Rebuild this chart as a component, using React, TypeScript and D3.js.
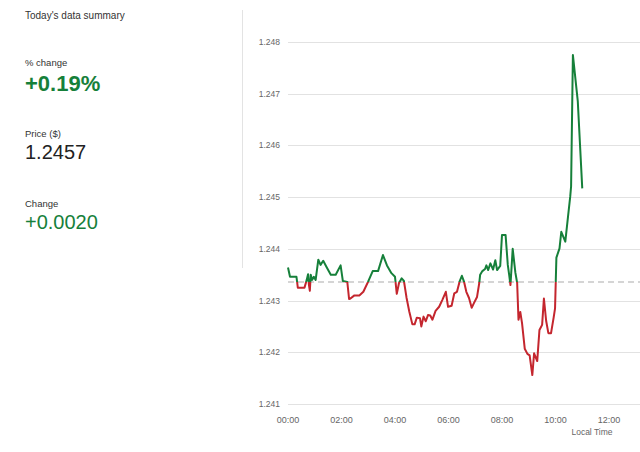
import React from "react";
import * as d3 from "d3";

// time in minutes after 00:00 (local time)
const minutes = [
  0, 4.5, 19, 22, 37, 42, 45, 47, 49, 51, 54, 58, 62, 68, 73, 79, 87, 96, 107, 118,
  123, 133, 137, 140, 149, 160, 169, 180, 190, 202, 213, 222, 232, 240, 244, 249, 255, 260, 266, 272,
  279, 284, 289, 296, 299, 304, 309, 314, 319, 324, 331, 339, 346, 354, 359, 367, 373, 379, 385, 390,
  395, 400, 406, 412, 417, 424, 429, 431, 436, 442, 445, 449, 454, 460, 465, 469, 476, 480, 488, 493,
  496, 499, 504, 510, 514, 517, 521, 525, 531, 537, 542, 548, 552, 559, 564, 570, 574, 579, 584, 590,
  596, 599, 602, 609, 613, 622, 628, 633, 635, 639, 650, 660,
];
const prices = [
  1.24364, 1.24346, 1.24346, 1.24325, 1.24325, 1.2434, 1.24351, 1.2433, 1.24319, 1.2435, 1.2434, 1.24346, 1.2434, 1.24379, 1.24369, 1.24377, 1.24364, 1.2435, 1.2435, 1.24368,
  1.24338, 1.24336, 1.24303, 1.24304, 1.2431, 1.2431, 1.24317, 1.24337, 1.24357, 1.24357, 1.24388, 1.24368, 1.24353, 1.24346, 1.24313, 1.24334, 1.24343, 1.24338, 1.24305, 1.24279,
  1.24254, 1.24254, 1.24267, 1.24266, 1.2425, 1.24269, 1.2426, 1.24272, 1.24271, 1.24263, 1.2428, 1.24288, 1.24301, 1.24317, 1.24288, 1.2429, 1.24314, 1.24317, 1.24337, 1.24348,
  1.24336, 1.24317, 1.24305, 1.24286, 1.24295, 1.24307, 1.24334, 1.2435, 1.24357, 1.24361, 1.24368, 1.24359, 1.24372, 1.2436, 1.24378, 1.24359, 1.24367, 1.24427, 1.24427, 1.24369,
  1.2435, 1.2433, 1.244, 1.24354, 1.24334, 1.24263, 1.24278, 1.24256, 1.24207, 1.24197, 1.24194, 1.24156, 1.24198, 1.24183, 1.24243, 1.24253, 1.24304, 1.24261, 1.24237, 1.24237,
  1.24268, 1.24285, 1.24383, 1.24401, 1.24433, 1.24414, 1.24462, 1.24501, 1.24521, 1.24775, 1.24685, 1.24517,
];
const previousClose = 1.24336;

const yTicks = [1.241, 1.242, 1.243, 1.244, 1.245, 1.246, 1.247, 1.248];
const xTickMinutes = [0, 120, 240, 360, 480, 600, 720];
const xTickLabels = ["00:00", "02:00", "04:00", "06:00", "08:00", "10:00", "12:00"];

const summaryTitle = "Today's data summary";
const summaryLabels = ["% change", "Price ($)", "Change"];
const summaryValues = ["+0.19%", "1.2457", "+0.0020"];

const GREEN = "#16803a";
const RED = "#c4262e";
const FONT = "'Liberation Sans', Arial, sans-serif";

export default function App() {
  const W = 640;
  const H = 452;
  const x = d3.scaleLinear().domain([0, 720]).range([288, 609]);
  const y = d3.scaleLinear().domain([1.241, 1.248]).range([404, 42]);
  const data = minutes.map((m, i) => ({ m, v: prices[i] }));
  const line = d3
    .line<{ m: number; v: number }>()
    .x((d) => x(d.m))
    .y((d) => y(d.v));
  const path = line(data) || "";
  const by = y(previousClose);

  return (
    <svg
      width={W}
      height={H}
      style={{ position: "absolute", left: 0, top: 0, background: "#fff" }}
      fontFamily={FONT}
    >
      <defs>
        <clipPath id="above">
          <rect x={0} y={0} width={W} height={by} />
        </clipPath>
        <clipPath id="below">
          <rect x={0} y={by} width={W} height={H - by} />
        </clipPath>
      </defs>

      {/* summary panel */}
      <text x={25} y={19} fontSize={10} fill="#333">{summaryTitle}</text>
      <text x={25} y={66} fontSize={9.5} fill="#333">{summaryLabels[0]}</text>
      <text x={25} y={91} fontSize={22} fontWeight="bold" fill={GREEN}>{summaryValues[0]}</text>
      <text x={25} y={137} fontSize={9.5} fill="#333">{summaryLabels[1]}</text>
      <text x={25} y={159} fontSize={20} fill="#222">{summaryValues[1]}</text>
      <text x={25} y={207} fontSize={9.5} fill="#333">{summaryLabels[2]}</text>
      <text x={25} y={229} fontSize={20} fill={GREEN}>{summaryValues[2]}</text>

      <line x1={242.5} x2={242.5} y1={10} y2={268} stroke="#e3e3e3" strokeWidth={1} />

      {/* grid + y ticks */}
      {yTicks.map((t) => (
        <g key={t}>
          <line x1={288} x2={W} y1={Math.round(y(t)) + 0.5} y2={Math.round(y(t)) + 0.5} stroke="#e2e2e2" />
          <text x={280} y={y(t)} dy="0.35em" textAnchor="end" fontSize={8.5} fill="#666">
            {d3.format(".3f")(t)}
          </text>
        </g>
      ))}

      {/* x ticks */}
      {xTickMinutes.map((m, i) => (
        <text key={m} x={x(m)} y={423} textAnchor="middle" fontSize={9} fill="#666">
          {xTickLabels[i]}
        </text>
      ))}
      <text x={592} y={435} textAnchor="middle" fontSize={8.5} fill="#666">Local Time</text>

      {/* baseline */}
      <line x1={288} x2={W} y1={by} y2={by} stroke="#c8c8c8" strokeWidth={1.5} strokeDasharray="6,4" />

      {/* price line */}
      <path d={path} fill="none" stroke={GREEN} strokeWidth={2} strokeLinejoin="round" clipPath="url(#above)" />
      <path d={path} fill="none" stroke={RED} strokeWidth={2} strokeLinejoin="round" clipPath="url(#below)" />
    </svg>
  );
}
